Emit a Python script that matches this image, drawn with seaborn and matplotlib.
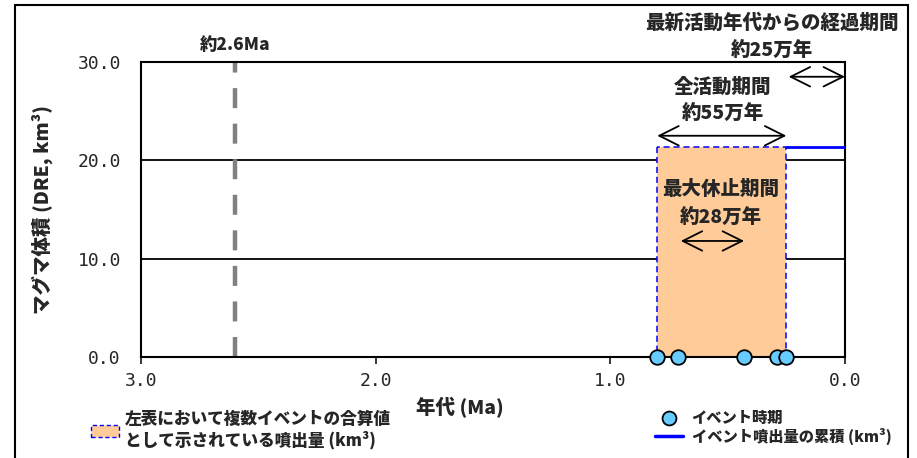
import matplotlib
matplotlib.use("Agg")
import matplotlib.pyplot as plt
from matplotlib.patches import Patch, Rectangle
from matplotlib.lines import Line2D
import seaborn as sns

# Data
event_ages = [0.80, 0.71, 0.43, 0.29, 0.25]          # Ma
event_volume = [0.0, 0.0, 0.0, 0.0, 0.0]
total_volume = 21.4                                   # km3 (DRE), combined value
cum_ages = [0.25, 0.0]
cum_volume = [21.4, 21.4]
old_age = 2.6                                         # 約2.6Ma marker
x_ticks = [3.0, 2.0, 1.0, 0.0]
y_ticks = [0.0, 10.0, 20.0, 30.0]

sns.set_style("white")
plt.rcParams['font.family'] = ['Noto Sans CJK JP', 'DejaVu Sans']

fig = plt.figure(figsize=(9.17, 4.58), dpi=100)
ax = fig.add_axes([141 / 917, 1 - 357 / 458, 704 / 917, 295 / 458])

# gridlines under everything
for yv in y_ticks[1:-1]:
    ax.axhline(yv, color="black", lw=1.3, zorder=1)

# combined eruption volume box
ax.fill_between([event_ages[0], event_ages[-1]], 0, total_volume,
                facecolor="#FFCC99", edgecolor="#0000FF", linestyle=(0, (4, 2.5)),
                linewidth=1.1, zorder=2)

# cumulative volume line
sns.lineplot(x=cum_ages, y=cum_volume, ax=ax, color="#0000FF", lw=2,
             zorder=3, sort=False)

# old activity marker
ax.plot([old_age, old_age], [0, 30], color="#808080", lw=3.2,
        linestyle=(0, (4.5, 3.5)), zorder=2)

# event timings
sns.scatterplot(x=event_ages, y=event_volume, ax=ax, s=110, color="#66CCFF",
                edgecolor="black", linewidth=1.3, zorder=5, clip_on=False)

ax.set_xlim(3.0, 0.0)
ax.set_ylim(0, 30)
ax.set_xticks(x_ticks)
ax.set_yticks(y_ticks)
ax.set_xticklabels([f"{v:.1f}" for v in x_ticks], family="DejaVu Sans Mono", fontsize=13)
ax.set_yticklabels([f"{v:.1f}" for v in y_ticks], family="DejaVu Sans Mono", fontsize=13)
ax.tick_params(axis="x", direction="out", length=5, width=1.3, pad=6, bottom=True)
ax.tick_params(axis="y", length=0, pad=14.5)
for sp in ax.spines.values():
    sp.set_color("black")
    sp.set_linewidth(1.5)

bw = "black"
ax.set_xlabel("年代 (Ma)", fontsize=14, fontweight=bw)
ax.xaxis.set_label_coords(0.453, -0.135)
ax.set_ylabel("マグマ体積 (DRE, km³)", fontsize=14, fontweight=bw)
ax.yaxis.set_label_coords(-0.125, 0.5)

# annotations
tkw = dict(ha="center", va="center", fontsize=14, fontweight=bw, clip_on=False)
ax.text(old_age, 31.7, "約2.6Ma", ha="center", va="center", fontsize=12.5,
        fontweight=bw, clip_on=False)
ax.text(0.31, 34.0, "最新活動年代からの経過期間", **tkw)
ax.text(0.31, 31.2, "約25万年", **tkw)
ax.text(0.52, 27.4, "全活動期間", **tkw)
ax.text(0.52, 24.8, "約55万年", **tkw)
ax.text(0.53, 17.0, "最大休止期間", **tkw)
ax.text(0.53, 14.2, "約28万年", **tkw)

akw = dict(arrowstyle="<->,head_length=0.7,head_width=0.35", color="black",
           lw=1.3, mutation_scale=20, shrinkA=0, shrinkB=0)
ax.annotate("", xy=(0.0, 28.5), xytext=(event_ages[-1] - 0.01, 28.5),
            arrowprops=akw, annotation_clip=False)
ax.annotate("", xy=(event_ages[-1], 22.5), xytext=(event_ages[0], 22.5),
            arrowprops=akw, annotation_clip=False)
ax.annotate("", xy=(event_ages[2], 11.8), xytext=(event_ages[1] - 0.01, 11.8),
            arrowprops=akw, annotation_clip=False)

# legends
if ax.get_legend() is not None:
    ax.get_legend().remove()
h1 = Patch(facecolor="#FFCC99", edgecolor="#0000FF", linestyle=(0, (3, 2)), linewidth=1.0)
fig.legend(handles=[h1], labels=["左表において複数イベントの合算値\nとして示されている噴出量 (km³)"],
           loc="center left", bbox_to_anchor=(91 / 917, 1 - 430 / 458),
           frameon=False, borderpad=0, borderaxespad=0, handlelength=1.7,
           handleheight=0.7, handletextpad=0.35, labelspacing=0,
           prop={"weight": bw, "size": 12})
h2 = Line2D([], [], marker="o", linestyle="none", markersize=10,
            markerfacecolor="#66CCFF", markeredgecolor="black", markeredgewidth=1.3)
h3 = Line2D([], [], color="#0000FF", lw=2.5)
fig.legend(handles=[h2, h3], labels=["イベント時期", "イベント噴出量の累積 (km³)"],
           loc="upper left", bbox_to_anchor=(655 / 917, 1 - 411 / 458),
           frameon=False, borderpad=0, borderaxespad=0, handlelength=1.8,
           handletextpad=0.6, labelspacing=0.1,
           prop={"weight": bw, "size": 11})

# outer frame
fig.patches.append(Rectangle((15 / 917, -0.02), 893 / 917, 1 - 5 / 458 + 0.02,
                             transform=fig.transFigure, fill=False,
                             edgecolor="black", lw=1.5, clip_on=False))

fig.savefig("out.png", dpi=100)
